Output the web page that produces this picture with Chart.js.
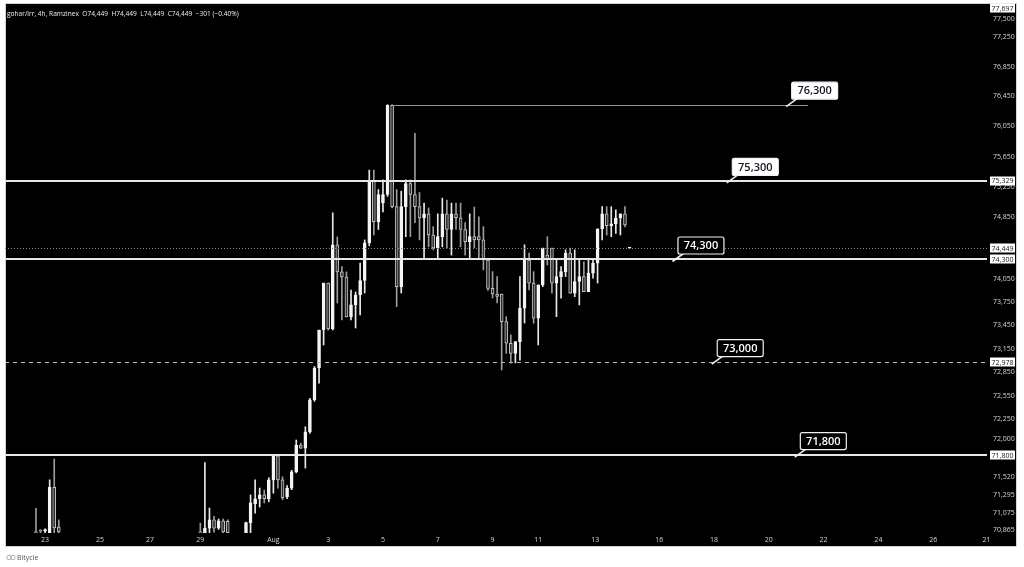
<!DOCTYPE html>
<html>
<head>
<meta charset="utf-8">
<title>gohar/irr 4h</title>
<script src="https://cdn.jsdelivr.net/npm/chart.js@4.4.1/dist/chart.umd.min.js"></script>
<style>
  html, body { margin: 0; padding: 0; background: #fff; }
  canvas { display: block; }
</style>
</head>
<body>
<canvas id="gohar-chart" width="1024" height="567"></canvas>
<script>
/* global Chart */

// ── data: 4h candles, x = bar number (0 = Jul 23) ─────────────────────
const barIdx = [-2, -1, 0, 1, 2, 3, 34, 35, 36, 37, 38, 39, 40,
  44, 45, 46, 47, 48, 49, 50, 51, 52, 53, 54, 55, 56, 57, 58, 59, 60, 61, 62, 63,
  64, 65, 66, 67, 68, 69, 70, 71, 72, 73, 74, 75, 76, 77, 78, 79, 80, 81, 82, 83,
  84, 85, 86, 87, 88, 89, 90, 91, 92, 93, 94, 95, 96, 97, 98, 99, 100, 101, 102, 103,
  104, 105, 106, 107, 108, 109, 110, 111, 112, 113, 114, 115, 116, 117, 118, 119, 120, 121, 122, 123,
  124, 125, 126, 127, 128];

const opens = [70840, 70860, 70850, 70710, 71395, 70900, 70840, 70820, 70888, 70991, 70888, 70978, 70972,
  70828, 70952, 71190, 71254, 71302, 71254, 71490, 71791, 71490, 71279, 71387, 71590, 71926, 71887, 72093, 72499, 72903, 73389, 73994, 73402,
  74491, 74139, 74073, 73557, 73712, 73840, 74027, 74516, 75330, 74793, 75038, 75150, 76330, 74990, 73947, 74990, 75292, 75150, 74990, 74841,
  74896, 74619, 74452, 74597, 74896, 74691, 74896, 74845, 74691, 74533, 74597, 74597, 74555, 74293, 73926, 73853, 73853, 73497, 73219, 73090,
  73239, 73669, 74293, 73994, 73541, 73970, 74358, 74448, 73994, 74078, 74143, 74384, 73862, 74014, 74078, 73882, 74122, 74251, 74699, 74896,
  74742, 74765, 74841, 74896, 74449];

const highs = [71135, 70870, 70880, 71490, 71750, 70990, 70950, 71705, 71138, 71035, 71002, 71002, 70992,
  70962, 71302, 71490, 71387, 71362, 71517, 71791, 71805, 71527, 71417, 71610, 71990, 71951, 72157, 72518, 72921, 73389, 73994, 73994, 74909,
  74594, 74207, 74139, 73904, 73879, 74254, 74555, 75472, 75472, 75215, 75343, 76340, 76340, 75215, 75193, 75343, 75343, 75957, 75176, 75037,
  74973, 74729, 74896, 75102, 75076, 75037, 75037, 75037, 74780, 74896, 74985, 74858, 74729, 74293, 74143, 74078, 73853, 73560, 73325, 73239,
  74078, 74491, 74384, 74143, 73970, 74448, 74597, 74448, 74293, 74207, 74426, 74448, 74426, 74293, 74271, 74293, 74314, 74699, 74990, 74990,
  74990, 74947, 74896, 74990, 74449];

const lows = [70800, 70800, 70800, 70660, 70830, 70800, 70800, 70800, 70824, 70837, 70872, 70812, 70802,
  70802, 70824, 71074, 71151, 71202, 71215, 71323, 71387, 71241, 71255, 71367, 71577, 71880, 71637, 72073, 72478, 72711, 73197, 73389, 73389,
  73737, 73518, 73557, 73518, 73415, 73583, 73866, 74478, 74619, 74691, 74922, 75125, 74975, 73690, 73866, 74597, 74597, 74780, 74555, 74319,
  74465, 74426, 74319, 74465, 74452, 74357, 74691, 74465, 74357, 74319, 74452, 74319, 74165, 73900, 73802, 73737, 72878, 73090, 72964, 72967,
  73004, 73479, 73905, 73476, 73197, 73947, 74229, 73862, 73561, 73798, 74078, 73862, 73819, 73712, 73882, 73882, 74058, 73994, 74555, 74619,
  74597, 74641, 74619, 74725, 74449];

const closes = [70830, 70850, 70870, 71395, 70890, 70840, 70830, 70888, 70991, 70888, 70978, 70841, 70832,
  70956, 71202, 71254, 71302, 71254, 71490, 71791, 71490, 71267, 71387, 71590, 71926, 71887, 72093, 72499, 72903, 73389, 73994, 73402, 74491,
  74139, 74073, 73557, 73712, 73840, 74027, 74516, 75334, 74793, 75150, 75150, 76330, 74990, 73947, 74990, 75292, 75150, 74990, 74841, 74896,
  74619, 74452, 74597, 74896, 74691, 74896, 74845, 74691, 74533, 74597, 74555, 74555, 74293, 73926, 73853, 73820, 73497, 73219, 73090, 73239,
  73669, 74293, 73994, 73541, 73970, 74448, 74303, 73994, 74078, 74143, 74384, 73862, 74014, 74078, 73882, 74122, 74251, 74699, 74896, 74742,
  74765, 74841, 74896, 74750, 74449];

// axis labels
const xTickAt   = [0, 12, 23, 34, 50, 62, 74, 86, 98, 108, 120.5, 134.5, 146.5, 158.5, 170.5, 182.5, 194.5, 206.2];
const xTickText = ['23', '25', '27', '29', 'Aug', '3', '5', '7', '9', '11', '13', '16', '18', '20', '22', '24', '26', '21'];
const yTickVals = [77500, 77250, 76850, 76450, 76050, 75650, 75250, 74850, 74050, 73750, 73450, 73150,
  72850, 72550, 72250, 72000, 71520, 71295, 71075, 70865];

// price tags on the right axis
const axisTags = [77697, 75329, 74449, 74300, 72978, 71800];

// drawn levels
const levelVals  = [76340, 75329, 74300, 72978, 71800];
const levelText  = ['76,300', '75,300', '74,300', '73,000', '71,800'];
const levelFrom  = [76, null, null, null, null];
const levelTo    = [167.1, null, null, null, null];
const levelTagAt = [162.3, 149.3, 137.4, 146.0, 164.2];
const lastPrice  = 74449;

// ── chart ────────────────────────────────────────────────────────────
(function () {
    'use strict';

    const X_MIN = -8.78, X_MAX = 206.29;
    const Y_MIN = 70828, Y_MAX = 77697;
    const FONT  = '"Open Sans", "DejaVu Sans", sans-serif';

    const isUp = function (i) { return closes[i] >= opens[i]; };

    const wicks  = barIdx.map(function (x, i) { return { x: x, y: [lows[i], highs[i]] }; });
    const bodies = barIdx.map(function (x, i) { return { x: x, y: [opens[i], closes[i]] }; });

    /* ── panel, title, watermark ──────────────────────────────────── */
    const frame = {
        id: 'frame',
        beforeDraw: function (chart) {
            const c = chart.ctx;
            c.save();
            c.fillStyle = '#fff';
            c.fillRect(0, 0, chart.width, chart.height);
            c.fillStyle = '#000';
            c.fillRect(5, 3, 1012, 544);
            c.strokeStyle = '#d4d4d4';
            c.lineWidth = 1;
            c.strokeRect(5.5, 3.5, 1011, 543);
            c.restore();
        },
        afterDraw: function (chart) {
            const c = chart.ctx;
            c.save();
            c.fillStyle = '#ececec';
            c.font = '6.6px ' + FONT;
            c.textBaseline = 'middle';
            c.fillText('gohar/irr, 4h, Ramzinex  O74,449  H74,449  L74,449  C74,449  \u2212301 (\u22120.40%)', 7, 14);

            // Bitycle mark
            c.strokeStyle = '#9a9a9a';
            c.lineWidth = 0.8;
            c.beginPath(); c.arc(9, 557.5, 2.2, 0, Math.PI * 2); c.stroke();
            c.beginPath(); c.arc(13, 557.5, 2.2, 0, Math.PI * 2); c.stroke();
            c.fillStyle = '#555';
            c.font = '7px ' + FONT;
            c.fillText('Bitycle', 17, 557.5);
            c.restore();
        }
    };

    /* ── horizontal levels + callout tags ─────────────────────────── */
    const levels = {
        id: 'levels',
        afterDatasetsDraw: function (chart) {
            const c = chart.ctx, a = chart.chartArea;
            const xs = chart.scales.x, ys = chart.scales.y;
            c.save();
            c.beginPath();
            c.rect(a.left, a.top, a.right - a.left, a.bottom - a.top);
            c.clip();

            // last price (dotted)
            const py = Math.round(ys.getPixelForValue(lastPrice)) + 0.5;
            c.strokeStyle = '#8a8a8a';
            c.lineWidth = 1;
            c.setLineDash([1, 2]);
            c.beginPath(); c.moveTo(a.left, py); c.lineTo(a.right, py); c.stroke();

            levelVals.forEach(function (v, i) {
                const y = Math.round(ys.getPixelForValue(v));
                const x0 = levelFrom[i] === null ? a.left : xs.getPixelForValue(levelFrom[i]);
                const x1 = levelTo[i] === null ? a.right : xs.getPixelForValue(levelTo[i]);
                if (i === 0) {
                    c.setLineDash([]); c.strokeStyle = '#9a9a9a'; c.lineWidth = 1;
                    c.beginPath(); c.moveTo(x0, y + 0.5); c.lineTo(x1, y + 0.5); c.stroke();
                } else if (i === 3) {
                    c.setLineDash([4, 4]); c.strokeStyle = '#b8b8b8'; c.lineWidth = 1;
                    c.beginPath(); c.moveTo(x0, y + 0.5); c.lineTo(x1, y + 0.5); c.stroke();
                } else {
                    c.setLineDash([]); c.strokeStyle = '#e6e6e6'; c.lineWidth = 2;
                    c.beginPath(); c.moveTo(x0, y); c.lineTo(x1, y); c.stroke();
                }
            });
            c.restore();

            // callout tags
            c.save();
            c.setLineDash([]);
            levelVals.forEach(function (v, i) {
                const tx = xs.getPixelForValue(levelTagAt[i]);
                const ty = ys.getPixelForValue(v) + 2;
                const light = i < 2;
                const w = 46, h = 17;
                const bx = tx + 5, by = ty - 8 - h;

                c.strokeStyle = '#f0f0f0';
                c.lineWidth = 1.6;
                c.beginPath(); c.moveTo(tx, ty); c.lineTo(bx + 6, by + h); c.stroke();

                c.beginPath();
                c.roundRect(bx + 0.5, by + 0.5, w, h, 2);
                c.fillStyle = light ? '#fff' : '#000';
                c.fill();
                c.strokeStyle = '#f0f0f0';
                c.lineWidth = 1.2;
                c.stroke();

                c.fillStyle = light ? '#131722' : '#fff';
                c.font = '600 11px ' + FONT;
                c.textAlign = 'center';
                c.textBaseline = 'middle';
                c.fillText(levelText[i], bx + w / 2 + 0.5, by + h / 2 + 1);
            });
            c.restore();
        },
        afterDraw: function (chart) {
            const c = chart.ctx, ys = chart.scales.y, a = chart.chartArea;
            c.save();
            c.font = '7px ' + FONT;
            c.textAlign = 'center';
            c.textBaseline = 'middle';
            axisTags.forEach(function (v) {
                let y = ys.getPixelForValue(v);
                if (y < a.top + 4) y = a.top + 4;
                c.fillStyle = '#fff';
                c.fillRect(990, Math.round(y) - 4.5, 25, 9);
                c.fillStyle = '#131722';
                c.fillText(v.toLocaleString('en-US'), 1002.5, y + 0.5);
            });
            c.restore();
        }
    };

    new Chart(document.getElementById('gohar-chart'), {
        type: 'bar',
        data: {
            datasets: [
                {
                    label: 'wick',
                    data: wicks,
                    grouped: false,
                    barThickness: 1,
                    borderWidth: 0,
                    backgroundColor: function (ctx) { return isUp(ctx.dataIndex) ? '#e8e8e8' : '#9c9c9c'; },
                    order: 2,
                },
                {
                    label: 'body',
                    data: bodies,
                    grouped: false,
                    barThickness: 3,
                    minBarLength: 1,
                    borderWidth: 1,
                    borderSkipped: false,
                    backgroundColor: function (ctx) { return isUp(ctx.dataIndex) ? '#f4f4f4' : '#2e2e2e'; },
                    borderColor: function (ctx) { return isUp(ctx.dataIndex) ? '#f4f4f4' : '#c4c4c4'; },
                    order: 1,
                },
            ],
        },
        options: {
            responsive: false,
            animation: false,
            layout: { padding: { top: 4, left: 5, right: 7, bottom: 20 } },
            plugins: {
                legend: { display: false },
                tooltip: { enabled: false },
            },
            scales: {
                x: {
                    type: 'linear',
                    min: X_MIN,
                    max: X_MAX,
                    offset: false,
                    grid: { display: false, drawTicks: false },
                    border: { display: false },
                    afterBuildTicks: function (s) { s.ticks = xTickAt.map(function (v) { return { value: v }; }); },
                    afterFit: function (s) { s.height = 14; s.paddingLeft = 0; s.paddingRight = 0; },
                    ticks: {
                        color: '#d6d6d6',
                        font: { size: 7, family: FONT },
                        padding: 3,
                        autoSkip: false,
                        maxRotation: 0,
                        callback: function (v, i) { return xTickText[i]; },
                    },
                },
                y: {
                    type: 'logarithmic',
                    position: 'right',
                    min: Y_MIN,
                    max: Y_MAX,
                    grid: { display: false, drawTicks: false },
                    border: { display: false },
                    afterBuildTicks: function (s) { s.ticks = yTickVals.map(function (v) { return { value: v }; }); },
                    afterFit: function (s) { s.width = 30; s.paddingTop = 0; s.paddingBottom = 0; },
                    ticks: {
                        color: '#d6d6d6',
                        font: { size: 7, family: FONT },
                        padding: 6,
                        autoSkip: false,
                        callback: function (v) { return Number(v).toLocaleString('en-US'); },
                    },
                },
            },
        },
        plugins: [frame, levels],
    });
})();
</script>
</body>
</html>
